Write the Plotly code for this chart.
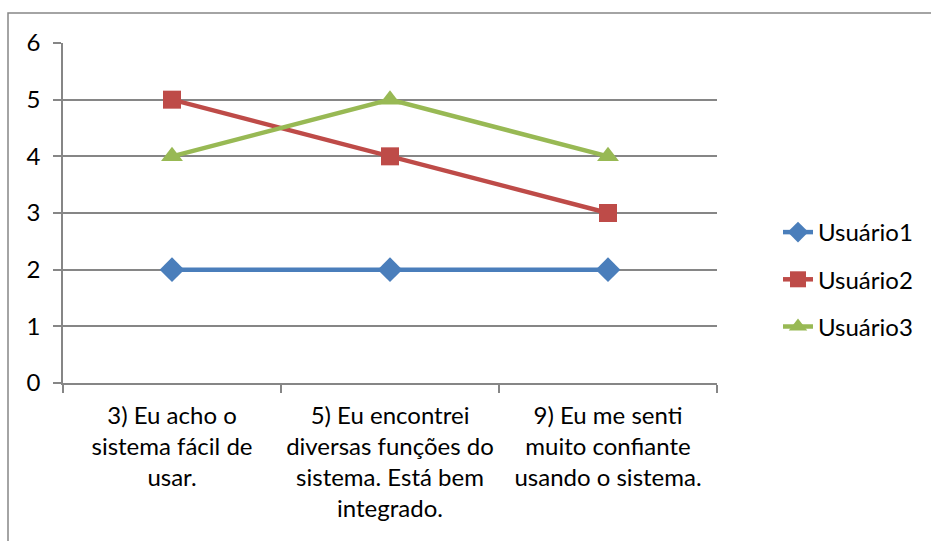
import plotly.graph_objects as go

categories = [
    "3) Eu acho o<br>sistema fácil de<br>usar.",
    "5) Eu encontrei<br>diversas funções do<br>sistema. Está bem<br>integrado.",
    "9) Eu me senti<br>muito confiante<br>usando o sistema.",
]
cat_ids = ["q3", "q5", "q9"]
usuario1 = [2, 2, 2]
usuario2 = [5, 4, 3]
usuario3 = [4, 5, 4]
y_ticks = [0, 1, 2, 3, 4, 5, 6]

series = [
    ("Usuário1", usuario1, "#4A7EBB", "diamond", 19),
    ("Usuário2", usuario2, "#BE4B48", "square", 18),
    ("Usuário3", usuario3, "#98B954", "triangle-up", 19),
]

FONT = "Lato"
GRID = "#868686"

fig = go.Figure()
for name, vals, color, sym, size in series:
    fig.add_trace(go.Scatter(
        x=cat_ids, y=vals, name=name, mode="lines+markers",
        legendgroup=name,
        line=dict(color=color, width=4.5),
        marker=dict(symbol=sym, size=size, color=color, line=dict(width=0)),
    ))

W, H = 931, 541
L, R, T, B = 63, 214, 43, 158
pw, ph = W - L - R, H - T - B

def px_to_paper_x(px):
    return (px - L) / pw

def px_to_paper_y(py):
    return (H - B - py) / ph

fig.update_layout(
    width=W, height=H,
    margin=dict(l=L, r=R, t=T, b=B, pad=0),
    paper_bgcolor="white", plot_bgcolor="white",
    font=dict(family=FONT, size=24, color="black"),
    showlegend=True,
    legend=dict(
        x=px_to_paper_x(778), y=px_to_paper_y(210), xanchor="left", yanchor="top",
        font=dict(size=24), traceorder="grouped", tracegroupgap=13,
        bgcolor="rgba(0,0,0,0)",
    ),
    xaxis=dict(
        type="category", tickmode="array", tickvals=cat_ids, ticktext=categories,
        tickson="boundaries", ticks="outside", ticklen=8, tickcolor=GRID, tickwidth=1.5,
        showgrid=False, showline=True, linecolor=GRID, linewidth=1.5,
        range=[-0.5, 2.5], fixedrange=True, tickangle=0,
        tickfont=dict(size=24), ticklabelstandoff=10,
    ),
    yaxis=dict(
        range=[0, 6], tickvals=y_ticks, ticks="outside", ticklen=8,
        tickcolor=GRID, tickwidth=1.5,
        showgrid=True, gridcolor=GRID, gridwidth=1.5,
        showline=True, linecolor=GRID, linewidth=1.5,
        zeroline=False, tickfont=dict(size=24), fixedrange=True,
        ticklabelstandoff=8,
    ),
    shapes=[dict(
        type="rect", xref="paper", yref="paper",
        x0=px_to_paper_x(8), x1=px_to_paper_x(940),
        y0=px_to_paper_y(560), y1=px_to_paper_y(13),
        line=dict(color=GRID, width=1.5), fillcolor="rgba(0,0,0,0)", layer="below",
    )],
)

fig.write_html("out.html")
